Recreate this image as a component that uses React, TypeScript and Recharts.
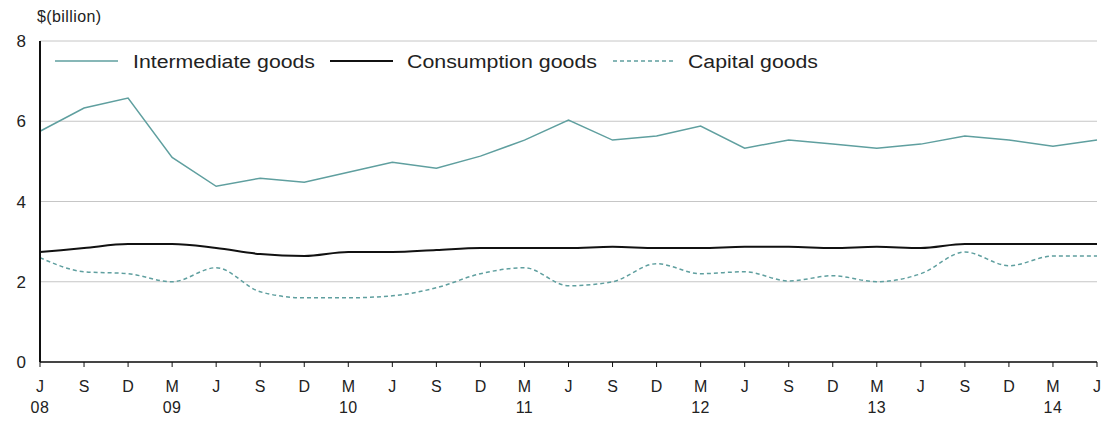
import { LineChart, Line, XAxis, YAxis, CartesianGrid } from "recharts";

const months = ["J", "S", "D", "M", "J", "S", "D", "M", "J", "S", "D", "M", "J", "S", "D", "M", "J", "S", "D", "M", "J", "S", "D", "M", "J"];
const years = ["08", "", "", "09", "", "", "", "10", "", "", "", "11", "", "", "", "12", "", "", "", "13", "", "", "", "14", ""];

const intermediate = [5.75, 6.33, 6.58, 5.1, 4.38, 4.58, 4.48, 4.73, 4.98, 4.83, 5.13, 5.53, 6.03, 5.53, 5.63, 5.88, 5.33, 5.53, 5.43, 5.33, 5.43, 5.63, 5.53, 5.38, 5.53];
const consumption = [2.74, 2.84, 2.94, 2.94, 2.84, 2.69, 2.64, 2.74, 2.74, 2.79, 2.84, 2.84, 2.84, 2.87, 2.84, 2.84, 2.87, 2.87, 2.84, 2.87, 2.84, 2.94, 2.94, 2.94, 2.94];
const capital = [2.6, 2.25, 2.2, 2.0, 2.35, 1.75, 1.6, 1.6, 1.65, 1.85, 2.2, 2.35, 1.9, 2.0, 2.45, 2.2, 2.25, 2.02, 2.15, 2.0, 2.2, 2.74, 2.4, 2.64, 2.64];

const yTicks = [0, 2, 4, 6, 8];

const data = months.map((m, i) => ({
  idx: i,
  month: m,
  year: years[i],
  intermediate: intermediate[i],
  consumption: consumption[i],
  capital: capital[i],
}));

const TEAL = "#5f9f9f";
const FONT = "'Liberation Sans', Arial, sans-serif";

const MonthTick = (props: any) => {
  const { x, y, payload } = props;
  const d = data[payload.value];
  return (
    <g>
      <text x={x} y={y + 23} textAnchor="middle" fontSize={16} fill="#222" fontFamily={FONT}>
        {d.month}
      </text>
      {d.year && (
        <text x={x} y={y + 44} textAnchor="middle" fontSize={16} fill="#222" fontFamily={FONT} letterSpacing={0.5}>
          {d.year}
        </text>
      )}
    </g>
  );
};

const legendItems = [
  { name: "Intermediate goods", dash: "", color: TEAL, lineX: 55, textX: 133, w: 182 },
  { name: "Consumption goods", dash: "", color: "#111", lineX: 330, textX: 407, w: 190 },
  { name: "Capital goods", dash: "4 3", color: TEAL, lineX: 613, textX: 688, w: 130 },
];

const App = () => {
  return (
    <div style={{ position: "absolute", left: 0, top: 0, width: 1103, height: 423, background: "#fff", fontFamily: FONT }}>
      <LineChart width={1103} height={423} data={data} margin={{ top: 41, right: 6, left: 0, bottom: 0 }}>
        <CartesianGrid vertical={false} stroke="#c6c6c6" strokeWidth={1} />
        <XAxis
          dataKey="idx"
          type="category"
          interval={0}
          height={61}
          tick={<MonthTick />}
          tickSize={5}
          tickLine={{ stroke: "#111" }}
          axisLine={{ stroke: "#111", strokeWidth: 1.5 }}
        />
        <YAxis
          domain={[0, 8]}
          ticks={yTicks}
          width={40}
          tickSize={0}
          tickMargin={14}
          axisLine={{ stroke: "#111", strokeWidth: 2 }}
          tick={{ fontSize: 17, fill: "#222", fontFamily: FONT }}
        />
        <Line type="monotone" dataKey="consumption" stroke="#111" strokeWidth={2} dot={false} isAnimationActive={false} />
        <Line type="monotone" dataKey="capital" stroke={TEAL} strokeWidth={1.5} strokeDasharray="4 3" dot={false} isAnimationActive={false} />
        <Line type="linear" dataKey="intermediate" stroke={TEAL} strokeWidth={1.5} dot={false} isAnimationActive={false} />
      </LineChart>
      <div style={{ position: "absolute", left: 37, top: 8, fontSize: 16, letterSpacing: 0.4, color: "#222" }}>$(billion)</div>
      <svg style={{ position: "absolute", left: 0, top: 50 }} width={900} height={26}>
        {legendItems.map((it) => (
          <g key={it.name}>
            <line x1={it.lineX} x2={it.lineX + 63} y1={11} y2={11} stroke={it.color} strokeWidth={it.color === TEAL ? 1.5 : 2} strokeDasharray={it.dash} />
            <text x={it.textX} y={18} fontSize={18} fill="#222" fontFamily={FONT} textLength={it.w} lengthAdjust="spacingAndGlyphs">
              {it.name}
            </text>
          </g>
        ))}
      </svg>
    </div>
  );
};

export default App;
